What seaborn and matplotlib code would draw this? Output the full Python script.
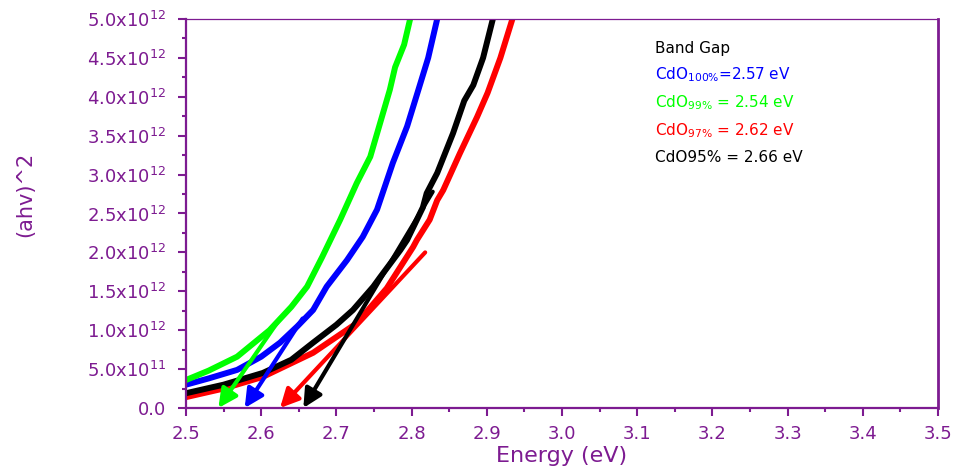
import matplotlib

matplotlib.use("Agg")
import matplotlib.pyplot as plt
import numpy as np
import pandas as pd
import seaborn as sns

PURPLE = "#7d1b91"

# (ahv)^2 curves, values in units of 1e12
energy_99 = [2.490, 2.500, 2.530, 2.568, 2.611, 2.640, 2.661, 2.681, 2.705, 2.727,
             2.745, 2.758, 2.771, 2.778, 2.790, 2.798]
ahv_99 = [0.33, 0.36, 0.48, 0.66, 1.00, 1.30, 1.56, 1.94, 2.42, 2.89,
          3.23, 3.66, 4.09, 4.38, 4.67, 5.00]

energy_100 = [2.490, 2.500, 2.530, 2.568, 2.600, 2.625, 2.648, 2.669, 2.687, 2.714,
              2.735, 2.754, 2.775, 2.794, 2.809, 2.822, 2.834]
ahv_100 = [0.28, 0.30, 0.38, 0.49, 0.66, 0.84, 1.05, 1.26, 1.56, 1.90,
           2.20, 2.55, 3.15, 3.62, 4.09, 4.50, 5.00]

energy_95 = [2.490, 2.500, 2.550, 2.602, 2.640, 2.669, 2.700, 2.722, 2.749, 2.758,
             2.785, 2.794, 2.807, 2.815, 2.820, 2.834, 2.855, 2.870, 2.882, 2.895, 2.908]
ahv_95 = [0.17, 0.19, 0.30, 0.45, 0.62, 0.84, 1.07, 1.26, 1.56, 1.68,
          2.03, 2.16, 2.42, 2.58, 2.76, 3.02, 3.53, 3.95, 4.15, 4.50, 5.00]

energy_97 = [2.490, 2.500, 2.550, 2.602, 2.669, 2.727, 2.767, 2.802, 2.807, 2.824,
             2.834, 2.842, 2.864, 2.887, 2.901, 2.918, 2.934]
ahv_97 = [0.12, 0.14, 0.25, 0.40, 0.71, 1.09, 1.54, 2.07, 2.16, 2.42,
          2.67, 2.80, 3.27, 3.74, 4.05, 4.50, 5.00]

# tangent arrows: (tail energy, tail value) -> (band gap, 0)
arrow_tail_e = [2.625, 2.655, 2.818, 2.828]
arrow_tail_v = [1.15, 1.15, 2.00, 2.78]
band_gap = [2.543, 2.578, 2.625, 2.656]
arrow_colors = ["#00ff00", "#0000ff", "#ff0000", "black"]

ytick_values = [0.0, 0.5, 1.0, 1.5, 2.0, 2.5, 3.0, 3.5, 4.0, 4.5, 5.0]
ytick_labels = ["0.0", r"$\mathregular{5.0x10^{11}}$", r"$\mathregular{1.0x10^{12}}$",
                r"$\mathregular{1.5x10^{12}}$", r"$\mathregular{2.0x10^{12}}$",
                r"$\mathregular{2.5x10^{12}}$", r"$\mathregular{3.0x10^{12}}$",
                r"$\mathregular{3.5x10^{12}}$", r"$\mathregular{4.0x10^{12}}$",
                r"$\mathregular{4.5x10^{12}}$", r"$\mathregular{5.0x10^{12}}$"]
xtick_values = [2.5, 2.6, 2.7, 2.8, 2.9, 3.0, 3.1, 3.2, 3.3, 3.4, 3.5]

legend_lines = [
    ("Band Gap", "black"),
    (r"CdO$_{\mathregular{100\%}}$=2.57 eV", "#0000ff"),
    (r"CdO$_{\mathregular{99\%}}$ = 2.54 eV", "#00ff00"),
    (r"CdO$_{\mathregular{97\%}}$ = 2.62 eV", "#ff0000"),
    ("CdO95% = 2.66 eV", "black"),
]

sns.set_theme(style="white")
plt.rcParams["font.family"] = ["DejaVu Sans"]

fig = plt.figure(figsize=(9.56, 4.70), dpi=100)
ax = fig.add_axes([0.1946, 0.1319, 0.7866, 0.8277])

series = [
    (energy_97, ahv_97, "#ff0000"),
    (energy_95, ahv_95, "black"),
    (energy_100, ahv_100, "#0000ff"),
    (energy_99, ahv_99, "#00ff00"),
]
for e, v, c in series:
    df = pd.DataFrame({"E": e, "v": np.array(v) * 1e12})
    sns.lineplot(data=df, x="E", y="v", color=c, lw=4.3, ax=ax,
                 estimator=None, sort=False, solid_capstyle="butt")

for te, tv, bg, c in zip(arrow_tail_e, arrow_tail_v, band_gap, arrow_colors):
    ax.annotate("", xy=(bg, 0), xytext=(te, tv * 1e12),
                arrowprops=dict(arrowstyle="-|>", color=c, lw=3,
                                mutation_scale=28, shrinkA=0, shrinkB=0))

ax.set_xlim(2.5, 3.5)
ax.set_ylim(0, 5e12)
ax.set_xticks(xtick_values)
ax.set_xticklabels([f"{x:.1f}" for x in xtick_values])
ax.set_yticks([v * 1e12 for v in ytick_values])
ax.set_yticklabels(ytick_labels)
ax.set_xticks(np.arange(2.55, 3.5, 0.1), minor=True)
ax.set_yticks(np.arange(0.25, 5.0, 0.5) * 1e12, minor=True)

ax.tick_params(axis="both", which="major", direction="out", length=6, width=1.5,
               color=PURPLE, labelcolor=PURPLE, labelsize=13)
ax.tick_params(axis="both", which="minor", direction="out", length=3, width=1.5,
               color=PURPLE)
ax.tick_params(axis="y", which="both", left=True, right=False, pad=8)
ax.tick_params(axis="x", which="both", bottom=True, top=False, pad=6)

for name, w in [("left", 1.6), ("bottom", 1.6), ("top", 0.9), ("right", 2.0)]:
    ax.spines[name].set_visible(True)
    ax.spines[name].set_color(PURPLE)
    ax.spines[name].set_linewidth(w)

ax.set_xlabel("Energy (eV)", fontsize=16, color=PURPLE, va="bottom")
ax.xaxis.set_label_coords(0.5, -0.148)
ax.set_ylabel("(ahv)^2", fontsize=15, color=PURPLE)
ax.yaxis.set_label_coords(-0.20, 0.55)

y_pos = [0.925, 0.856, 0.784, 0.712, 0.645]
for (txt, c), yp in zip(legend_lines, y_pos):
    ax.text(0.624, yp, txt, color=c, fontsize=11, transform=ax.transAxes,
            ha="left", va="center")

ax.grid(False)
fig.savefig("out.png", dpi=100)
